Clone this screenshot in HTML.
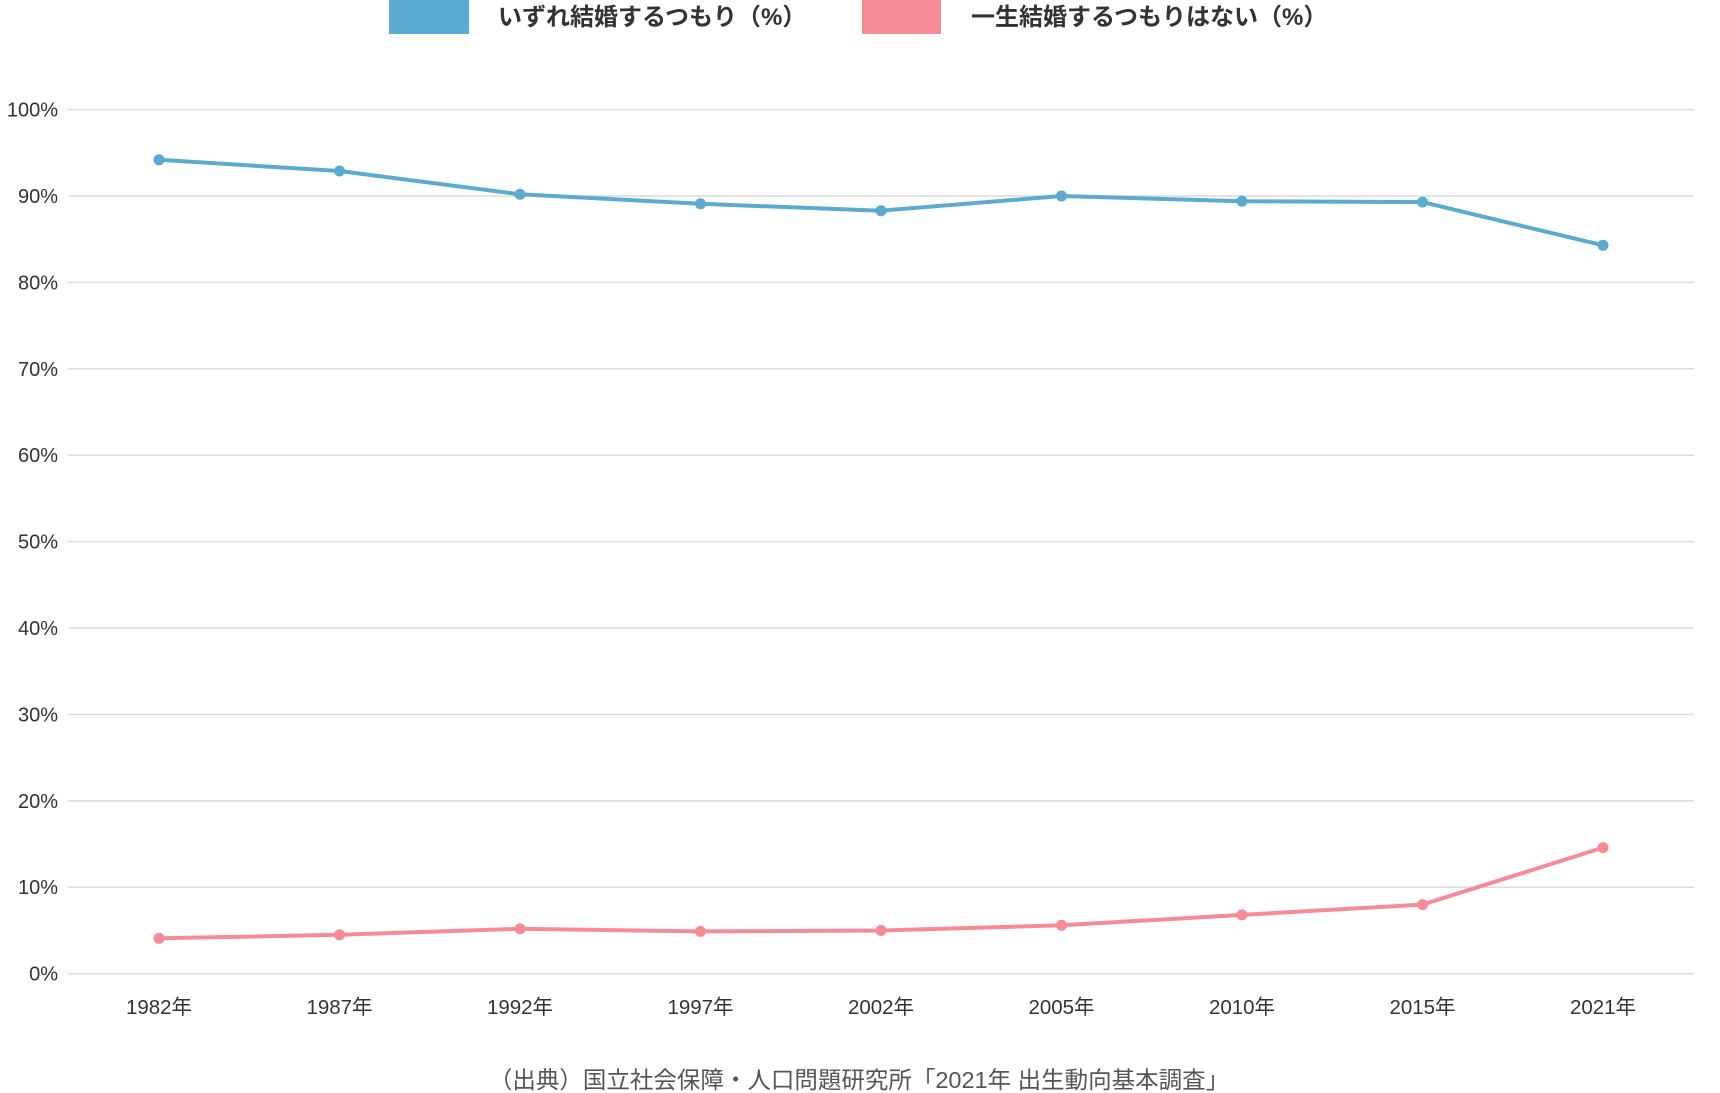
<!DOCTYPE html>
<html><head><meta charset="utf-8"><style>
body{margin:0;background:#fff;}
svg{display:block;font-family:"Liberation Sans","Noto Sans CJK JP",sans-serif;}
</style></head><body>
<svg width="1720" height="1093" viewBox="0 0 1720 1093">
<rect x="389" y="0" width="80" height="34" fill="#5aabcf"/>
<text x="498" y="25" font-size="24" fill="#333" font-weight="bold">いずれ結婚するつもり（%）</text>
<rect x="862" y="0" width="79" height="34" fill="#f68b96"/>
<text x="971" y="25" font-size="24" fill="#333" font-weight="bold">一生結婚するつもりはない（%）</text>
<g stroke="#dcdcdc" stroke-width="1.5">
<line x1="68" x2="1694" y1="109.6" y2="109.6"/><line x1="68" x2="1694" y1="196" y2="196"/>
<line x1="68" x2="1694" y1="282.4" y2="282.4"/><line x1="68" x2="1694" y1="368.8" y2="368.8"/>
<line x1="68" x2="1694" y1="455.2" y2="455.2"/><line x1="68" x2="1694" y1="541.6" y2="541.6"/>
<line x1="68" x2="1694" y1="628" y2="628"/><line x1="68" x2="1694" y1="714.5" y2="714.5"/>
<line x1="68" x2="1694" y1="800.9" y2="800.9"/><line x1="68" x2="1694" y1="887.3" y2="887.3"/>
<line x1="68" x2="1694" y1="973.7" y2="973.7"/>
</g>
<g font-size="20" fill="#333" text-anchor="end">
<text x="58" y="116.5">100%</text><text x="58" y="203">90%</text><text x="58" y="289.5">80%</text>
<text x="58" y="376">70%</text><text x="58" y="462">60%</text><text x="58" y="548.5">50%</text>
<text x="58" y="635">40%</text><text x="58" y="721.5">30%</text><text x="58" y="808">20%</text>
<text x="58" y="894">10%</text><text x="58" y="980.5">0%</text>
</g>
<g font-size="20.5" fill="#333" text-anchor="middle">
<text x="159" y="1014">1982年</text><text x="339.5" y="1014">1987年</text><text x="520" y="1014">1992年</text>
<text x="700.5" y="1014">1997年</text><text x="881" y="1014">2002年</text><text x="1061.5" y="1014">2005年</text>
<text x="1242" y="1014">2010年</text><text x="1422.5" y="1014">2015年</text><text x="1603" y="1014">2021年</text>
</g>
<polyline fill="none" stroke="#5aabcf" stroke-width="4" stroke-linejoin="round" points="159,159.8 339.5,171.0 520,194.3 700.5,203.8 881,210.7 1061.5,196.0 1242,201.2 1422.5,202.1 1603,245.3"/>
<g fill="#5aabcf">
<circle cx="159" cy="159.8" r="5.5"/><circle cx="339.5" cy="171.0" r="5.5"/><circle cx="520" cy="194.3" r="5.5"/>
<circle cx="700.5" cy="203.8" r="5.5"/><circle cx="881" cy="210.7" r="5.5"/><circle cx="1061.5" cy="196.0" r="5.5"/>
<circle cx="1242" cy="201.2" r="5.5"/><circle cx="1422.5" cy="202.1" r="5.5"/><circle cx="1603" cy="245.3" r="5.5"/>
</g>
<polyline fill="none" stroke="#f68b96" stroke-width="4" stroke-linejoin="round" points="159,938.3 339.5,934.8 520,928.8 700.5,931.4 881,930.5 1061.5,925.3 1242,914.9 1422.5,904.6 1603,847.6"/>
<g fill="#f68b96">
<circle cx="159" cy="938.3" r="5.5"/><circle cx="339.5" cy="934.8" r="5.5"/><circle cx="520" cy="928.8" r="5.5"/>
<circle cx="700.5" cy="931.4" r="5.5"/><circle cx="881" cy="930.5" r="5.5"/><circle cx="1061.5" cy="925.3" r="5.5"/>
<circle cx="1242" cy="914.9" r="5.5"/><circle cx="1422.5" cy="904.6" r="5.5"/><circle cx="1603" cy="847.6" r="5.5"/>
</g>
<text x="859" y="1088" font-size="23.5" fill="#555" text-anchor="middle">（出典）国立社会保障・人口問題研究所「2021年 出生動向基本調査」</text>
</svg>
</body></html>
